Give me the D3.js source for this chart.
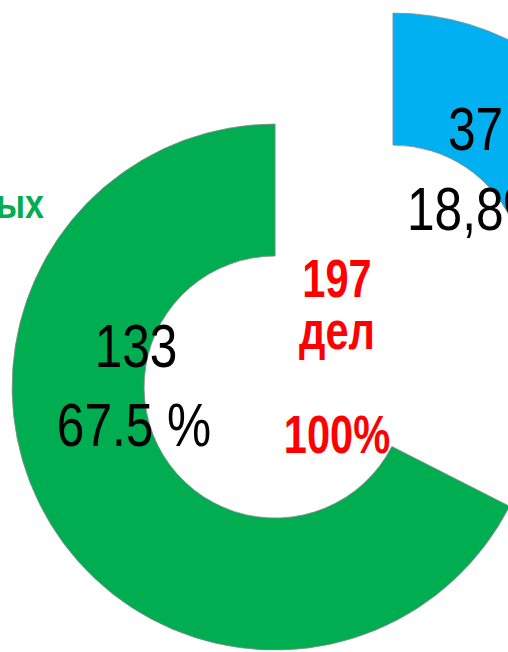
<!DOCTYPE html>
<html><head><meta charset="utf-8">
<script src="https://cdn.jsdelivr.net/npm/d3@7"></script>
<style>
html,body{margin:0;padding:0;background:#fff;overflow:hidden;}
svg{display:block;}
text{font-family:"Liberation Sans",Arial,sans-serif;}
</style></head>
<body>
<svg id="c" width="508" height="652"></svg>
<script>
// ---- data ----
const categories = ["blue", "other", "green"];
const values = [37, 27, 133];
const valueLabels = ["37", "27", "133"];
const percentLabels = ["18,8%", "13,7%", "67.5 %"];
const colors = ["#00B0F0", "#FFC000", "#00AD50"];
const totalLines = ["197", "дел", "100%"];
const sideLabel = "ных";

// ---- layout ----
const cx = 349, cy = 341.7;
const outerR = 263, innerR = 131;
const explode = [79, 80, 86.7];
const narrow = 0.80;
const labelPos = [
  {x1: 448, y1: 150, x2: 407, y2: 230, anchor: "start"},
  null, // label of this slice lies outside the visible area
  {x1: 136, y1: 367, x2: 134, y2: 446, anchor: "middle"}
];

const svg = d3.select("#c");
const pie = d3.pie().sort(null).value(d => d).startAngle(0).endAngle(2 * Math.PI);
const arcs = pie(values);
const arc = d3.arc().innerRadius(innerR).outerRadius(outerR);

const g = svg.append("g").attr("transform", `translate(${cx},${cy})`);
g.selectAll("path").data(arcs).join("path")
  .attr("d", arc)
  .attr("fill", (d, i) => colors[i])
  .attr("stroke", "#8a8a8a")
  .attr("stroke-width", 0.8)
  .attr("transform", (d, i) => {
    const m = (d.startAngle + d.endAngle) / 2;
    return `translate(${explode[i] * Math.sin(m)},${-explode[i] * Math.cos(m)})`;
  });

function ntext(x, y, txt, size, opts = {}) {
  return svg.append("text")
    .attr("transform", `translate(${x},${y}) scale(${opts.sx || narrow},1)`)
    .attr("text-anchor", opts.anchor || "middle")
    .attr("font-size", size)
    .attr("font-weight", opts.bold ? "bold" : "normal")
    .attr("fill", opts.fill || "#000")
    .text(txt);
}

// slice labels
categories.forEach((c, i) => {
  const p = labelPos[i];
  if (!p) return;
  ntext(p.x1, p.y1, valueLabels[i], 62, {anchor: p.anchor});
  ntext(p.x2, p.y2, percentLabels[i], 62, {anchor: p.anchor});
});

// total in the centre
const tY = [297, 349, 453];
totalLines.forEach((t, i) => {
  ntext(337, tY[i], t, 54, {bold: true, fill: "#FF0000", sx: 0.77});
});

// cut-off side label
ntext(44, 218, sideLabel, 40, {anchor: "end", bold: true, fill: "#00AD50", sx: 0.85});
</script>
</body></html>
